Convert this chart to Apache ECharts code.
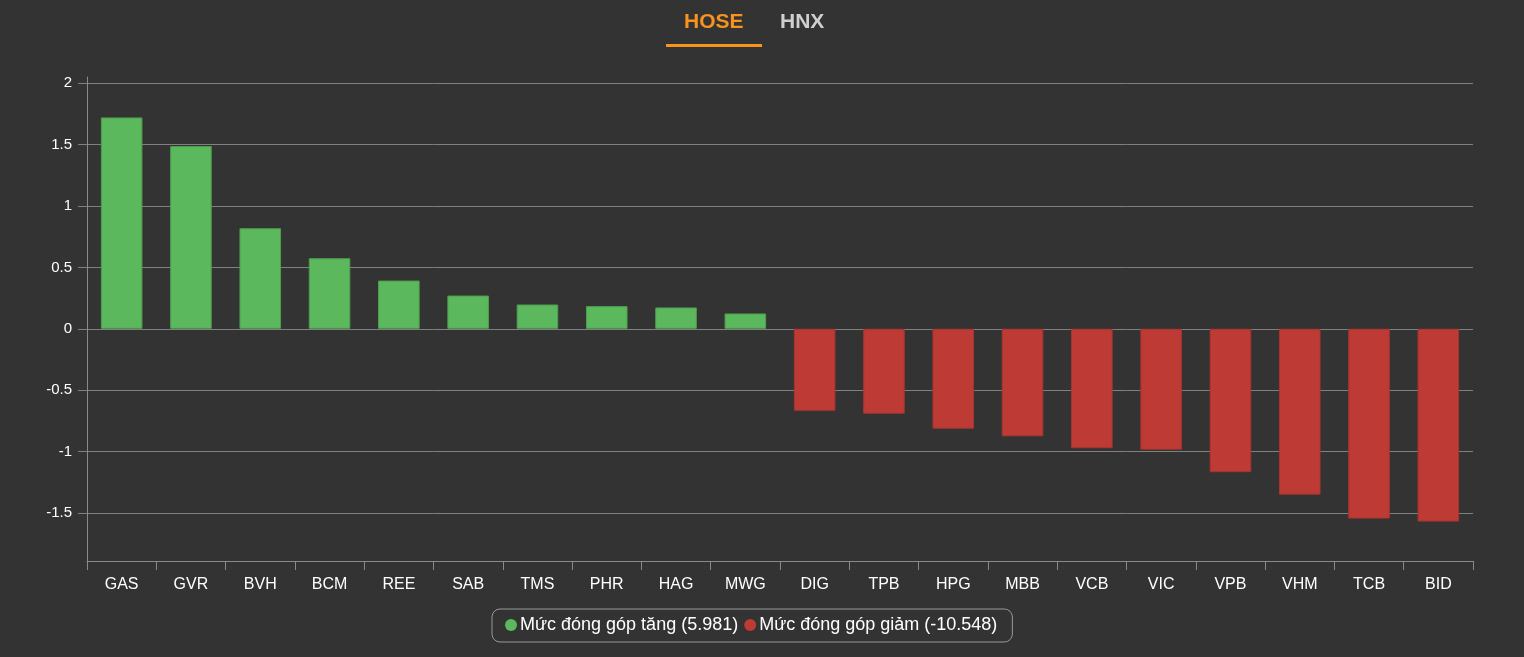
<!DOCTYPE html>
<html>
<head>
<meta charset="utf-8">
<style>
html,body{margin:0;padding:0;background:#333333;}
#chart{width:1524px;height:657px;}
</style>
<script src="https://cdn.jsdelivr.net/npm/echarts@6/dist/echarts.min.js"></script>
</head>
<body>
<div id="chart"></div>
<script>
const categories = ['GAS','GVR','BVH','BCM','REE','SAB','TMS','PHR','HAG','MWG','DIG','TPB','HPG','MBB','VCB','VIC','VPB','VHM','TCB','BID'];
const upValues = [1.721,1.488,0.819,0.575,0.393,0.271,0.198,0.185,0.174,0.125,'-','-','-','-','-','-','-','-','-','-'];
const downValues = ['-','-','-','-','-','-','-','-','-','-',-0.667,-0.691,-0.813,-0.875,-0.972,-0.984,-1.167,-1.350,-1.545,-1.569];
const totalUp = '5.981';
const totalDown = '-10.548';
const yTicks = [-1.5,-1,-0.5,0,0.5,1,1.5,2];
const tabs = ['HOSE','HNX'];

const upName = 'Mức đóng góp tăng (' + totalUp + ')';
const downName = 'Mức đóng góp giảm (' + totalDown + ')';
const FONT = 'Liberation Sans, Arial, sans-serif';

const chart = echarts.init(document.getElementById('chart'));
chart.setOption({
  backgroundColor: '#333333',
  animation: false,
  textStyle: {fontFamily: FONT},
  graphic: [
    {type:'text', left: 684, top: 12, style:{text: tabs[0], fill:'#f7931e', font:'bold 21px ' + FONT}},
    {type:'rect', shape:{x:666, y:44, width:96, height:3}, style:{fill:'#f7931e'}},
    {type:'text', left: 780, top: 12, style:{text: tabs[1], fill:'#cfcfcf', font:'bold 21px ' + FONT}}
  ],
  legend: {
    left: 492,
    top: 609,
    data: [upName, downName],
    icon: 'circle',
    itemWidth: 12,
    itemHeight: 12,
    itemGap: 6,
    itemStyle: {borderWidth: 0},
    padding: [7, 15, 8, 13],
    borderColor: '#999999',
    borderWidth: 1,
    borderRadius: 8,
    textStyle: {color:'#ffffff', fontSize: 18, fontFamily: FONT, padding:[0,0,0,-2]}
  },
  grid: {left: 87, right: 51, top: 77, bottom: 96, containLabel: false},
  xAxis: {
    type: 'category',
    data: categories,
    position: 'bottom',
    axisLine: {onZero: false, lineStyle: {color:'#8a8a8a'}},
    axisTick: {show: true, length: 9, alignWithLabel: false, lineStyle:{color:'#8a8a8a'}},
    axisLabel: {color:'#ffffff', fontSize: 16, margin: 16, fontFamily: FONT}
  },
  yAxis: {
    type: 'value',
    min: -1.89,
    max: 2.05,
    axisLine: {show: true, lineStyle: {color:'#8a8a8a'}},
    axisTick: {show: true, inside: false, length: 9, customValues: yTicks, lineStyle:{color:'#808080', width: 1}},
    axisLabel: {color:'#ffffff', fontSize: 15, margin: 15, customValues: yTicks, fontFamily: FONT},
    splitLine: {show: true, lineStyle: {color:'#808080', width: 1}}
  },
  series: [
    {
      name: upName, type: 'bar', stack: 'a', data: upValues, barWidth: '60%',
      itemStyle: {color:'#5cb85c', borderColor:'#4e9e4e', borderWidth: 1}
    },
    {
      name: downName, type: 'bar', stack: 'a', data: downValues, barWidth: '60%',
      itemStyle: {color:'#bd3a35', borderColor:'#a83430', borderWidth: 1}
    }
  ]
});
</script>
</body>
</html>
